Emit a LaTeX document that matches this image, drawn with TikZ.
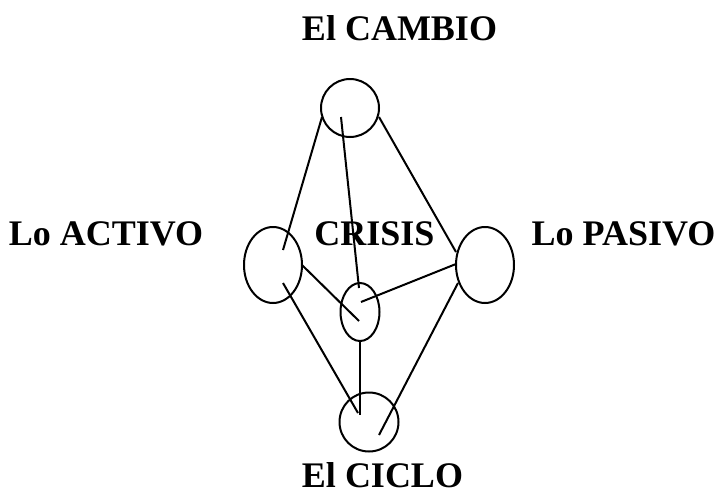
\documentclass[tikz,border=0pt]{standalone}
\usepackage{fontspec}
\setmainfont{Liberation Serif}
\usetikzlibrary{shapes.geometric,calc}
\tikzset{
  blob/.style={draw, line width=2pt, inner sep=0pt},
  oval/.style={blob, ellipse},
  ring/.style={blob, circle},
  lbl/.style={anchor=base, inner sep=0pt, font=\bfseries\fontsize{36}{43}\selectfont},
  link/.style={line width=2pt}
}
\begin{document}
\begin{tikzpicture}[x=1pt,y=-1pt]
\useasboundingbox (0,0) rectangle (723,496);
\node[ring, minimum size=58pt] (top) at (350,108) {};
\node[oval, minimum width=58pt, minimum height=76pt] (left) at (273,265) {};
\node[oval, minimum width=58pt, minimum height=76pt] (right) at (485,265) {};
\node[oval, minimum width=39pt, minimum height=58pt] (mid) at (360,312) {};
\node[ring, minimum size=59pt] (bot) at (369,422) {};

\node[lbl] (tcambio) at (399.5,40) {El CAMBIO};
\node[lbl] (tactivo) at (106,245) {Lo ACTIVO};
\node[lbl] (tcrisis) at (374.5,245) {CRISIS};
\node[lbl] (tpasivo) at (623.5,245) {Lo PASIVO};
\node[lbl] (tciclo) at (382.5,487) {El CICLO};

\draw[link] ($(top.center)+(-28,9)$) -- ($(left.center)+(10,-15)$);
\draw[link] ($(top.center)+(-9,9)$) -- ($(mid.center)+(-1,-24)$);
\draw[link] ($(top.center)+(29,9)$) -- ($(right.center)+(-29,-13)$);
\draw[link] ($(left.center)+(29,0)$) -- ($(mid.center)+(-1,9)$);
\draw[link] ($(mid.center)+(1,-10)$) -- ($(right.center)+(-29,-1)$);
\draw[link] ($(left.center)+(10,18)$) -- ($(bot.center)+(-11,-9)$);
\draw[link] ($(mid.center)+(0,28)$) -- ($(bot.center)+(-9,-7)$);
\draw[link] ($(right.center)+(-27,18)$) -- ($(bot.center)+(10,13)$);
\end{tikzpicture}
\end{document}
